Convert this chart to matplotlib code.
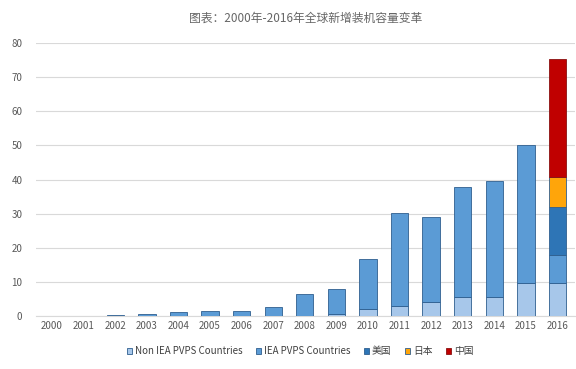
import matplotlib
matplotlib.use("Agg")
import matplotlib.pyplot as plt
import numpy as np

plt.rcParams['font.family'] = ['Noto Sans CJK SC', 'DejaVu Sans']

# data (GW)
years = ['2000', '2001', '2002', '2003', '2004', '2005', '2006', '2007',
         '2008', '2009', '2010', '2011', '2012', '2013', '2014', '2015', '2016']
non_iea = [0, 0, 0, 0, 0, 0, 0, 0, 0, 0.5, 2.0, 2.8, 4.0, 5.5, 5.6, 9.7, 9.7]
iea = [0.02, 0.05, 0.3, 0.5, 1.0, 1.3, 1.4, 2.5, 6.5, 7.4, 14.6, 27.4, 25.0, 32.3, 34.0, 40.3, 8.2]
usa = [0] * 16 + [14.1]
japan = [0] * 16 + [8.8]
china = [0] * 16 + [34.6]

series = [
    ('Non IEA PVPS Countries', non_iea, '#a7c7ea'),
    ('IEA PVPS Countries', iea, '#5b9bd5'),
    ('美国', usa, '#2e75b6'),
    ('日本', japan, '#ffa50a'),
    ('中国', china, '#c00000'),
]

fig = plt.figure(figsize=(5.76, 3.69), dpi=100)
ax = fig.add_axes([0.063, 0.144, 0.935, 0.739])

x = np.arange(len(years))
bottom = np.zeros(len(years))
for name, vals, col in series:
    vals = np.array(vals)
    keep = vals > 0  # don't draw outlines for empty segments
    edge = '#8a1010' if name == '中国' else '#2f5f8f'
    ax.bar(x[keep], vals[keep], width=0.55, bottom=bottom[keep], color=col,
           edgecolor=edge, linewidth=0.6, label=name, zorder=3)
    bottom += vals

ax.set_xlim(-0.5, len(years) - 0.45)
ax.set_ylim(0, 80)
ax.set_yticks(range(0, 81, 10))
ax.set_xticks(x)
ax.set_xticklabels(years)
ax.grid(axis='y', color='#d9d9d9', linewidth=0.8, zorder=0)
for s in ['top', 'right', 'left']:
    ax.spines[s].set_visible(False)
ax.spines['bottom'].set_color('#d9d9d9')
ax.tick_params(axis='both', length=0, labelsize=7, colors='#595959')
ax.tick_params(axis='y', pad=10)

fig.text(0.53, 0.95, '图表：2000年-2016年全球新增装机容量变革', ha='center', va='center',
         fontsize=8.5, color='#666666', fontweight='medium')

ax.legend(loc='upper center', bbox_to_anchor=(0.49, -0.08), ncol=5, frameon=False,
          fontsize=7, handlelength=0.5, handleheight=0.5, handletextpad=0.3,
          columnspacing=1.4, labelcolor='#404040')

fig.savefig('out.png', dpi=100)
